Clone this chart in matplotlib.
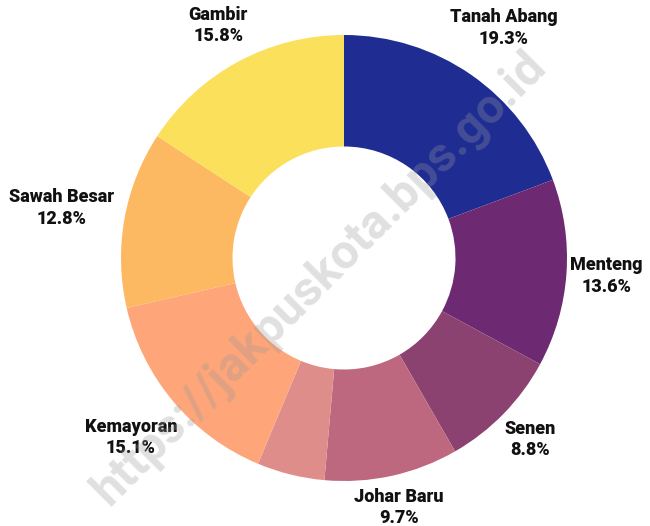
import matplotlib
matplotlib.use("Agg")
import matplotlib.pyplot as plt
import numpy as np

plt.rcParams['font.family'] = ['Roboto', 'DejaVu Sans']

districts = ['Tanah Abang', 'Menteng', 'Senen', 'Johar Baru', 'Cempaka Putih',
             'Kemayoran', 'Sawah Besar', 'Gambir']
shares = [19.3, 13.6, 8.8, 9.7, 4.9, 15.1, 12.8, 15.8]
show_label = [True, True, True, True, False, True, True, True]

colors = ['#1f2d93', '#6d2a72', '#8c4270', '#be687f', '#df8d8b',
          '#fea57a', '#fdb962', '#fbe05b']
label_dist = [1.255, 1.18, 1.167, 1.145, 1.2, 1.25, 1.285, 1.185]

W, H = 650, 526
cx, cy, R = 344, 268, 223

fig = plt.figure(figsize=(W / 100, H / 100), dpi=100)
ax = fig.add_axes([(cx - R) / W, (cy - R) / H, 2 * R / W, 2 * R / H])

wedges, _ = ax.pie(shares, colors=colors, startangle=90, counterclock=False,
                   radius=1, wedgeprops=dict(width=0.5, edgecolor='none'))
ax.set_xlim(-1, 1)
ax.set_ylim(-1, 1)
ax.axis('off')

total = sum(shares)
cum = 0
for name, val, show, d in zip(districts, shares, show_label, label_dist):
    mid = 90 - (cum + val / 2) / total * 360
    cum += val
    if not show:
        continue
    a = np.deg2rad(mid)
    ax.text(d * np.cos(a), d * np.sin(a), f"{name}\n{val:.1f}%",
            ha='center', va='center', fontsize=13, fontweight='heavy',
            color='#111111', linespacing=1.25)

fig.text(0.492, 0.471, 'https://jakpuskota.bps.go.id', rotation=45,
         ha='center', va='center', fontsize=35, fontweight='bold',
         color='#9a9a9a', alpha=0.3)

fig.savefig('out.png', dpi=100, facecolor='white')
